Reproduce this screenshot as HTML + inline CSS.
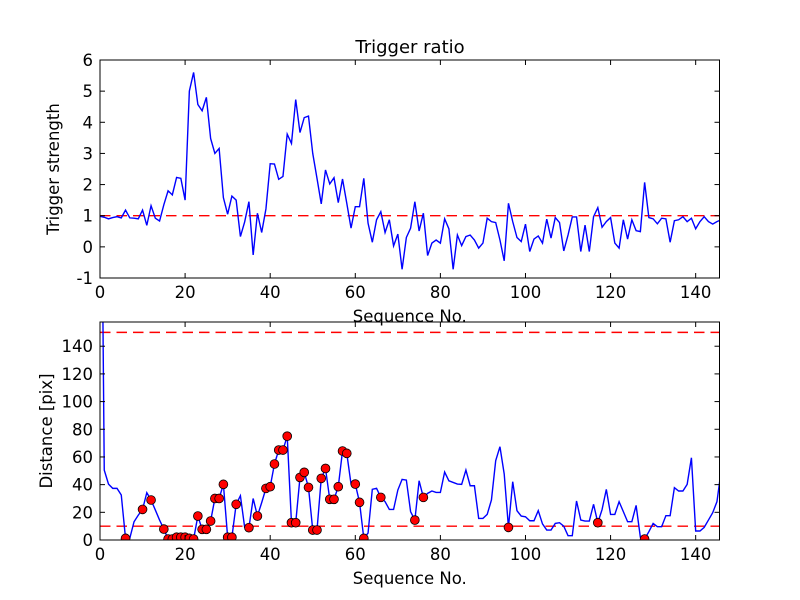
<!DOCTYPE html>
<html><head><meta charset="utf-8"><style>
body{margin:0;background:#fff}
svg{display:block;font-family:"DejaVu Sans","Liberation Sans",sans-serif}
</style></head><body>
<svg id="chart" width="800" height="600" viewBox="0 0 800 600" xmlns="http://www.w3.org/2000/svg">
<rect width="800" height="600" fill="#fff"/>
<text x="410" y="53" font-size="18" text-anchor="middle">Trigger ratio</text>
<g id="top"></g>
<g id="bot"></g>
</svg>
<script>
const triggerValues=[0.98,0.95,0.9,0.94,0.97,0.93,1.18,0.93,0.92,0.9,1.18,0.69,1.32,0.92,0.83,1.35,1.8,1.67,2.23,2.2,1.5,5.0,5.6,4.57,4.37,4.8,3.48,3.0,3.16,1.58,1.05,1.63,1.5,0.33,0.8,1.45,-0.26,1.08,0.46,1.22,2.67,2.66,2.17,2.26,3.62,3.32,4.73,3.67,4.15,4.2,3.0,2.2,1.38,2.47,2.02,2.22,1.42,2.18,1.4,0.6,1.29,1.29,2.2,0.76,0.15,0.87,1.13,0.46,0.87,0.03,0.41,-0.72,0.3,0.6,1.45,0.51,1.08,-0.28,0.12,0.22,0.12,0.9,0.58,-0.72,0.38,0.04,0.33,0.38,0.22,-0.04,0.12,0.92,0.81,0.78,0.22,-0.45,1.4,0.81,0.3,0.17,0.73,-0.15,0.25,0.35,0.12,0.89,0.28,0.94,0.78,-0.13,0.38,0.96,0.96,-0.15,0.7,-0.15,0.97,1.26,0.63,0.81,0.94,0.12,-0.04,0.87,0.25,0.87,0.52,0.49,2.07,0.94,0.9,0.74,0.92,0.9,0.15,0.84,0.87,0.97,0.81,0.92,0.58,0.81,0.97,0.81,0.73,0.81,0.87];
const distanceValues=[400,50.5,40.4,37.3,37.3,32.5,1.2,1.2,13.2,18,22.1,34.2,28.9,21.7,14.4,7.9,0.7,0.7,2,2,2,1.2,0.7,17.3,7.7,7.7,13.7,30,30,40.2,2,2,25.8,32,9.1,8.9,30,17.3,27,37.3,38.5,54.9,65,65,75,12.5,12.5,45.2,48.9,38,7.2,7.2,44.5,51.7,29.4,29.4,38.5,64.3,62.6,40.4,40.4,27.2,1.2,5,36.6,37.3,30.8,27.7,22.1,22.1,36.1,43.8,43.3,20.5,14.4,42.8,30.8,33.7,35.4,34.4,34.4,49.1,42.8,41.6,40.4,40.2,50.5,39.2,39.2,15.6,15.6,18.5,28.9,57.3,67.4,47.7,9.1,42.1,21.2,17.3,16.8,13.9,13.9,21.2,11.6,7.2,7.2,12,12.5,10,3.1,3.1,28.2,14.4,13.7,13.7,25.8,12.5,22,36.6,18.5,18.5,27.7,20.5,13.2,13.2,25,2,0.7,6,12,9.6,9.6,17.6,17.6,37.8,35.4,35.4,40.2,59.4,6.5,6.5,9.1,14.4,19.7,27.7,50.5];
const dotIndices=[6,10,12,15,16,17,18,19,20,21,22,23,24,25,26,27,28,29,30,31,32,35,37,39,40,41,42,43,44,45,46,47,48,49,50,51,52,53,54,55,56,57,58,60,61,62,66,74,76,96,117,128];
const xTicks=[0,20,40,60,80,100,120,140];
const topYTicks=[-1,0,1,2,3,4,5,6];
const botYTicks=[0,20,40,60,80,100,120,140];
const topThresholds=[1];
const botThresholds=[10,150];

const NS="http://www.w3.org/2000/svg";
function mk(tag,attrs,parent){const e=document.createElementNS(NS,tag);for(const k in attrs)e.setAttribute(k,attrs[k]);parent.appendChild(e);return e;}
const X0=100,X1=719.5,XMAX=145.6;
const xs=v=>X0+v*(X1-X0)/XMAX;

function panel(g,id,y0,y1,ymin,ymax,yTicks,yLabel,vals,thr,dots){
  const ys=v=>y1-(v-ymin)*(y1-y0)/(ymax-ymin);
  const clip=mk('clipPath',{id:'clip'+id},g);
  mk('rect',{x:X0,y:y0,width:X1-X0,height:y1-y0},clip);
  const plot=mk('g',{'clip-path':'url(#clip'+id+')'},g);
  
  
  thr.forEach(t=>{const l=mk('line',{x1:X0,x2:X1,y1:ys(t),y2:ys(t),stroke:'#ff0000','stroke-width':1.4,'stroke-dasharray':'10.5,6'},plot);
    
    });
  const pts=vals.map((v,i)=>xs(i).toFixed(2)+','+ys(v).toFixed(2)).join(' ');
  const pl=mk('polyline',{points:pts,fill:'none',stroke:'#0000ff','stroke-width':1.4},plot);
  
  
  if(dots){dots.forEach(i=>{const c=mk('circle',{cx:xs(i),cy:ys(vals[i]),r:4.4,fill:'#ff0000',stroke:'#000','stroke-width':0.8},plot);
    
    });}
  const fr=mk('rect',{x:X0,y:y0,width:X1-X0,height:y1-y0,fill:'none',stroke:'#000','stroke-width':1},g);
  
  
  xTicks.forEach(t=>{const x=xs(t);
    mk('line',{x1:x,x2:x,y1:y1,y2:y1-5,stroke:'#000'},g);
    mk('line',{x1:x,x2:x,y1:y0,y2:y0+5,stroke:'#000'},g);
    const tx=mk('text',{x:x,y:y1+20,'font-size':16.5,'text-anchor':'middle'},g);tx.textContent=t;
    
    });
  yTicks.forEach(t=>{const y=ys(t);
    mk('line',{x1:X0,x2:X0+5,y1:y,y2:y,stroke:'#000'},g);
    mk('line',{x1:X1,x2:X1-5,y1:y,y2:y,stroke:'#000'},g);
    const tx=mk('text',{x:X0-7,y:y+6,'font-size':16.5,'text-anchor':'end'},g);tx.textContent=t;
    
    });
  const xl=mk('text',{x:(X0+X1)/2,y:y1+44,'font-size':16.5,'text-anchor':'middle'},g);xl.textContent='Sequence No.';
  
  
  const cy=(y0+y1)/2;
  const yl=mk('text',{x:0,y:0,'font-size':16.5,'text-anchor':'middle',transform:'translate('+(id==='top'?59:52)+','+cy+') rotate(-90)'},g);yl.textContent=yLabel;
  
  
}
panel(document.getElementById('top'),'top',60,278,-1,6,topYTicks,'Trigger strength',triggerValues,topThresholds,null);
panel(document.getElementById('bot'),'bot',322,540,0,157.5,botYTicks,'Distance [pix]',distanceValues,botThresholds,dotIndices);
</script>
</body></html>
